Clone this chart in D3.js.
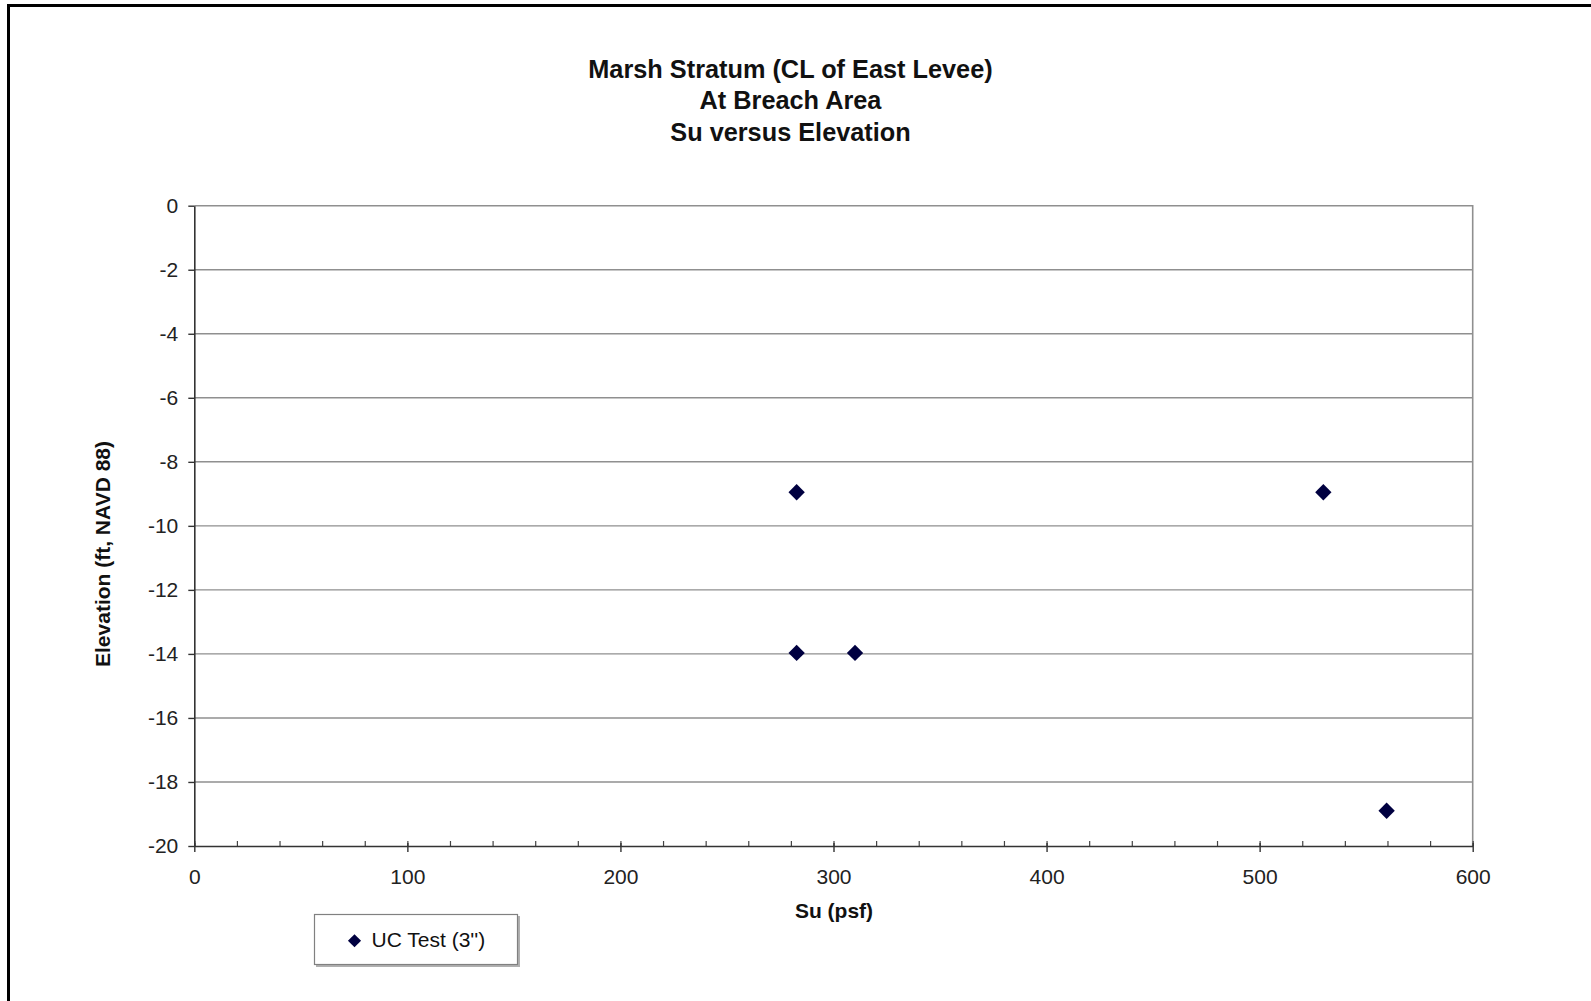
<!DOCTYPE html>
<html>
<head>
<meta charset="utf-8">
<script src="https://cdn.jsdelivr.net/npm/d3@7"></script>
<style>
  html, body { margin: 0; padding: 0; background: #fff; }
  svg { display: block; font-family: "Liberation Sans", Arial, sans-serif; }
</style>
</head>
<body>
<svg id="chart" width="1591" height="1001"></svg>
<script>
'use strict';

// chart data
var titleLines = ["Marsh Stratum (CL of East Levee)", "At Breach Area", "Su versus Elevation"];
var seriesName = "UC Test (3'')";
var suValues = [282.7, 529.9, 282.7, 310.1, 559.6];
var elevValues = [-8.95, -8.95, -13.97, -13.97, -18.9];
var xTicks = [0, 100, 200, 300, 400, 500, 600];
var xMinorTicks = d3.range(0, 601, 20);
var yTicks = [0, -2, -4, -6, -8, -10, -12, -14, -16, -18, -20];

var svg = d3.select('#chart');
var width = +svg.attr('width');
var height = +svg.attr('height');

var plot = { left: 194.3, right: 1472.7, top: 205.7, bottom: 846 };

var x = d3.scaleLinear().domain([0, 600]).range([plot.left, plot.right]);
var y = d3.scaleLinear().domain([-20, 0]).range([plot.bottom, plot.top]);

var points = suValues.map(function(v, i) { return { su: v, elev: elevValues[i] }; });

svg.append('rect')
  .attr('width', width).attr('height', height).attr('fill', '#fff');

// outer frame (right/bottom edges fall outside the picture)
svg.append('rect')
  .attr('x', 8.5).attr('y', 5.5)
  .attr('width', width + 20).attr('height', height + 20)
  .attr('fill', 'none').attr('stroke', '#000').attr('stroke-width', 3);

// title
svg.append('text')
  .attr('text-anchor', 'middle')
  .attr('font-weight', 'bold')
  .attr('font-size', 25.3)
  .attr('fill', '#111')
  .selectAll('tspan')
  .data(titleLines)
  .join('tspan')
    .attr('x', 790.5)
    .attr('y', function(d, i) { return 78 + i * 31.4; })
    .text(function(d) { return d; });

// horizontal gridlines
svg.append('g')
  .selectAll('line')
  .data(yTicks.filter(function(d) { return d !== 0 && d !== -20; }))
  .join('line')
    .attr('x1', plot.left).attr('x2', plot.right)
    .attr('y1', function(d) { return y(d); })
    .attr('y2', function(d) { return y(d); })
    .attr('stroke', '#8f8f8f').attr('stroke-width', 1.4);

// plot border (top / right)
svg.append('path')
  .attr('d', 'M' + plot.left + ',' + plot.top + 'H' + plot.right + 'V' + plot.bottom)
  .attr('fill', 'none').attr('stroke', '#8f8f8f').attr('stroke-width', 1.6);

// x axis: minor ticks inward, major ticks crossing
var xMinor = svg.append('g')
  .attr('transform', 'translate(0,' + plot.bottom + ')')
  .call(d3.axisBottom(x).tickValues(xMinorTicks).tickSize(-5).tickFormat(''));
xMinor.select('.domain').remove();
xMinor.selectAll('line').attr('stroke', '#444').attr('stroke-width', 1.2);

var xAxis = svg.append('g')
  .attr('transform', 'translate(0,' + plot.bottom + ')')
  .call(d3.axisBottom(x).tickValues(xTicks).tickSize(6).tickSizeOuter(0).tickPadding(17)
    .tickFormat(function(d) { return String(d); }));
xAxis.select('.domain').attr('stroke', '#333').attr('stroke-width', 1.6);
xAxis.selectAll('.tick line').attr('y1', -3).attr('stroke', '#333').attr('stroke-width', 1.4);
xAxis.selectAll('.tick text')
  .attr('font-size', 21).attr('fill', '#222')
  .attr('font-family', '"Liberation Sans", Arial, sans-serif');

// y axis
var yAxis = svg.append('g')
  .attr('transform', 'translate(' + plot.left + ',0)')
  .call(d3.axisLeft(y).tickValues(yTicks).tickSize(6).tickSizeOuter(0).tickPadding(10)
    .tickFormat(function(d) { return String(d); }));
yAxis.select('.domain').attr('stroke', '#333').attr('stroke-width', 1.6);
yAxis.selectAll('.tick line').attr('stroke', '#333').attr('stroke-width', 1.4);
yAxis.selectAll('.tick text')
  .attr('font-size', 21).attr('fill', '#222')
  .attr('font-family', '"Liberation Sans", Arial, sans-serif');

// axis titles
svg.append('text')
  .attr('x', 834).attr('y', 918)
  .attr('text-anchor', 'middle')
  .attr('font-weight', 'bold').attr('font-size', 21).attr('fill', '#111')
  .text('Su (psf)');

svg.append('text')
  .attr('transform', 'translate(109.5,554) rotate(-90)')
  .attr('text-anchor', 'middle')
  .attr('font-weight', 'bold').attr('font-size', 21).attr('fill', '#111')
  .text('Elevation (ft, NAVD 88)');

// points
var diamond = d3.symbol().type(d3.symbolDiamond2).size(170);
svg.append('g')
  .selectAll('path')
  .data(points)
  .join('path')
    .attr('transform', function(d) { return 'translate(' + x(d.su) + ',' + y(d.elev) + ')'; })
    .attr('d', diamond)
    .attr('fill', '#000040');

// legend
var legend = svg.append('g').attr('transform', 'translate(314.5,914.5)');
legend.append('rect')
  .attr('x', 1.5).attr('y', 1.5).attr('width', 204).attr('height', 51)
  .attr('fill', '#b0b0b0');
legend.append('rect')
  .attr('width', 203).attr('height', 50)
  .attr('fill', '#fff').attr('stroke', '#808080').attr('stroke-width', 1.2);
legend.append('path')
  .attr('transform', 'translate(40,26.3)')
  .attr('d', d3.symbol().type(d3.symbolDiamond2).size(110))
  .attr('fill', '#000040');
legend.append('text')
  .attr('x', 57).attr('y', 32.8)
  .attr('font-size', 21).attr('fill', '#111')
  .text(seriesName);
</script>
</body>
</html>
